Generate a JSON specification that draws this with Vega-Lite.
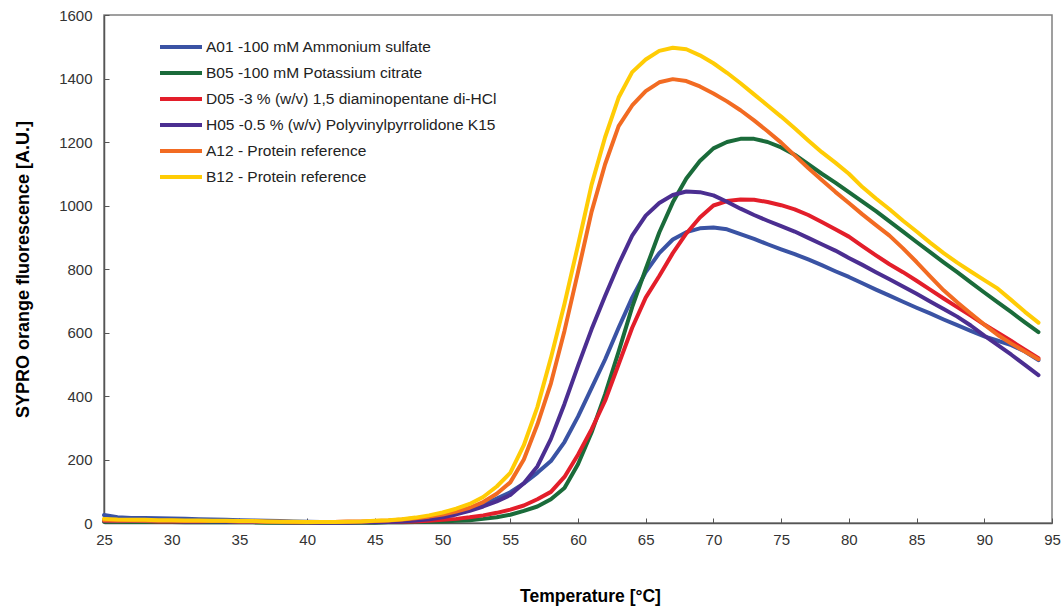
{
  "$schema": "https://vega.github.io/schema/vega-lite/v6.json",
  "width": 948,
  "height": 508,
  "autosize": {"type": "none"},
  "padding": {"left": 104, "top": 15, "right": 12, "bottom": 85},
  "background": "white",
  "config": {
    "font": "Liberation Sans",
    "view": {"stroke": "#808080", "strokeWidth": 1.5},
    "axis": {
      "grid": false,
      "domainColor": "#555555",
      "domainWidth": 1.5,
      "tickColor": "#555555",
      "tickWidth": 1,
      "labelColor": "#333333",
      "labelFontSize": 15,
      "titleFontWeight": "bold",
      "titleColor": "#000000"
    }
  },
  "datasets": {
    "curves": [
      {"s":"A01","t":25,"v":25},{"s":"A01","t":26,"v":18},{"s":"A01","t":27,"v":16},{"s":"A01","t":28,"v":16},{"s":"A01","t":29,"v":15},{"s":"A01","t":30,"v":14},{"s":"A01","t":31,"v":13},{"s":"A01","t":32,"v":12},{"s":"A01","t":33,"v":11},{"s":"A01","t":34,"v":10},{"s":"A01","t":35,"v":9},{"s":"A01","t":36,"v":8},{"s":"A01","t":37,"v":7},{"s":"A01","t":38,"v":6},{"s":"A01","t":39,"v":5},{"s":"A01","t":40,"v":4},{"s":"A01","t":41,"v":3},{"s":"A01","t":42,"v":3},{"s":"A01","t":43,"v":3},{"s":"A01","t":44,"v":3},{"s":"A01","t":45,"v":4},{"s":"A01","t":46,"v":6},{"s":"A01","t":47,"v":9},{"s":"A01","t":48,"v":13},{"s":"A01","t":49,"v":19},{"s":"A01","t":50,"v":26},{"s":"A01","t":51,"v":35},{"s":"A01","t":52,"v":46},{"s":"A01","t":53,"v":60},{"s":"A01","t":54,"v":77},{"s":"A01","t":55,"v":97},{"s":"A01","t":56,"v":125},{"s":"A01","t":57,"v":158},{"s":"A01","t":58,"v":195},{"s":"A01","t":59,"v":255},{"s":"A01","t":60,"v":335},{"s":"A01","t":61,"v":425},{"s":"A01","t":62,"v":515},{"s":"A01","t":63,"v":615},{"s":"A01","t":64,"v":710},{"s":"A01","t":65,"v":790},{"s":"A01","t":66,"v":850},{"s":"A01","t":67,"v":893},{"s":"A01","t":68,"v":916},{"s":"A01","t":69,"v":928},{"s":"A01","t":70,"v":931},{"s":"A01","t":71,"v":925},{"s":"A01","t":72,"v":910},{"s":"A01","t":73,"v":895},{"s":"A01","t":74,"v":878},{"s":"A01","t":75,"v":862},{"s":"A01","t":76,"v":847},{"s":"A01","t":77,"v":830},{"s":"A01","t":78,"v":812},{"s":"A01","t":79,"v":793},{"s":"A01","t":80,"v":775},{"s":"A01","t":81,"v":755},{"s":"A01","t":82,"v":735},{"s":"A01","t":83,"v":716},{"s":"A01","t":84,"v":697},{"s":"A01","t":85,"v":678},{"s":"A01","t":86,"v":660},{"s":"A01","t":87,"v":641},{"s":"A01","t":88,"v":623},{"s":"A01","t":89,"v":605},{"s":"A01","t":90,"v":588},{"s":"A01","t":91,"v":574},{"s":"A01","t":92,"v":560},{"s":"A01","t":93,"v":540},{"s":"A01","t":94,"v":513},

      {"s":"B05","t":25,"v":4},{"s":"B05","t":26,"v":4},{"s":"B05","t":27,"v":3},{"s":"B05","t":28,"v":3},{"s":"B05","t":29,"v":3},{"s":"B05","t":30,"v":3},{"s":"B05","t":31,"v":2},{"s":"B05","t":32,"v":2},{"s":"B05","t":33,"v":2},{"s":"B05","t":34,"v":2},{"s":"B05","t":35,"v":2},{"s":"B05","t":36,"v":2},{"s":"B05","t":37,"v":1},{"s":"B05","t":38,"v":1},{"s":"B05","t":39,"v":1},{"s":"B05","t":40,"v":1},{"s":"B05","t":41,"v":1},{"s":"B05","t":42,"v":1},{"s":"B05","t":43,"v":1},{"s":"B05","t":44,"v":1},{"s":"B05","t":45,"v":1},{"s":"B05","t":46,"v":2},{"s":"B05","t":47,"v":2},{"s":"B05","t":48,"v":3},{"s":"B05","t":49,"v":4},{"s":"B05","t":50,"v":5},{"s":"B05","t":51,"v":7},{"s":"B05","t":52,"v":9},{"s":"B05","t":53,"v":13},{"s":"B05","t":54,"v":18},{"s":"B05","t":55,"v":26},{"s":"B05","t":56,"v":38},{"s":"B05","t":57,"v":52},{"s":"B05","t":58,"v":75},{"s":"B05","t":59,"v":110},{"s":"B05","t":60,"v":185},{"s":"B05","t":61,"v":285},{"s":"B05","t":62,"v":405},{"s":"B05","t":63,"v":540},{"s":"B05","t":64,"v":680},{"s":"B05","t":65,"v":800},{"s":"B05","t":66,"v":915},{"s":"B05","t":67,"v":1010},{"s":"B05","t":68,"v":1085},{"s":"B05","t":69,"v":1140},{"s":"B05","t":70,"v":1180},{"s":"B05","t":71,"v":1200},{"s":"B05","t":72,"v":1210},{"s":"B05","t":73,"v":1210},{"s":"B05","t":74,"v":1200},{"s":"B05","t":75,"v":1183},{"s":"B05","t":76,"v":1160},{"s":"B05","t":77,"v":1130},{"s":"B05","t":78,"v":1100},{"s":"B05","t":79,"v":1072},{"s":"B05","t":80,"v":1042},{"s":"B05","t":81,"v":1012},{"s":"B05","t":82,"v":982},{"s":"B05","t":83,"v":950},{"s":"B05","t":84,"v":918},{"s":"B05","t":85,"v":885},{"s":"B05","t":86,"v":853},{"s":"B05","t":87,"v":821},{"s":"B05","t":88,"v":790},{"s":"B05","t":89,"v":758},{"s":"B05","t":90,"v":726},{"s":"B05","t":91,"v":695},{"s":"B05","t":92,"v":664},{"s":"B05","t":93,"v":632},{"s":"B05","t":94,"v":601},

      {"s":"D05","t":25,"v":7},{"s":"D05","t":26,"v":6},{"s":"D05","t":27,"v":6},{"s":"D05","t":28,"v":6},{"s":"D05","t":29,"v":5},{"s":"D05","t":30,"v":5},{"s":"D05","t":31,"v":5},{"s":"D05","t":32,"v":5},{"s":"D05","t":33,"v":6},{"s":"D05","t":34,"v":6},{"s":"D05","t":35,"v":5},{"s":"D05","t":36,"v":4},{"s":"D05","t":37,"v":3},{"s":"D05","t":38,"v":3},{"s":"D05","t":39,"v":2},{"s":"D05","t":40,"v":2},{"s":"D05","t":41,"v":2},{"s":"D05","t":42,"v":3},{"s":"D05","t":43,"v":4},{"s":"D05","t":44,"v":3},{"s":"D05","t":45,"v":3},{"s":"D05","t":46,"v":3},{"s":"D05","t":47,"v":4},{"s":"D05","t":48,"v":5},{"s":"D05","t":49,"v":7},{"s":"D05","t":50,"v":10},{"s":"D05","t":51,"v":13},{"s":"D05","t":52,"v":18},{"s":"D05","t":53,"v":24},{"s":"D05","t":54,"v":32},{"s":"D05","t":55,"v":42},{"s":"D05","t":56,"v":55},{"s":"D05","t":57,"v":75},{"s":"D05","t":58,"v":98},{"s":"D05","t":59,"v":145},{"s":"D05","t":60,"v":215},{"s":"D05","t":61,"v":295},{"s":"D05","t":62,"v":385},{"s":"D05","t":63,"v":500},{"s":"D05","t":64,"v":615},{"s":"D05","t":65,"v":710},{"s":"D05","t":66,"v":778},{"s":"D05","t":67,"v":850},{"s":"D05","t":68,"v":912},{"s":"D05","t":69,"v":962},{"s":"D05","t":70,"v":1000},{"s":"D05","t":71,"v":1014},{"s":"D05","t":72,"v":1019},{"s":"D05","t":73,"v":1018},{"s":"D05","t":74,"v":1011},{"s":"D05","t":75,"v":1001},{"s":"D05","t":76,"v":988},{"s":"D05","t":77,"v":970},{"s":"D05","t":78,"v":948},{"s":"D05","t":79,"v":925},{"s":"D05","t":80,"v":902},{"s":"D05","t":81,"v":872},{"s":"D05","t":82,"v":843},{"s":"D05","t":83,"v":815},{"s":"D05","t":84,"v":790},{"s":"D05","t":85,"v":763},{"s":"D05","t":86,"v":735},{"s":"D05","t":87,"v":707},{"s":"D05","t":88,"v":680},{"s":"D05","t":89,"v":653},{"s":"D05","t":90,"v":625},{"s":"D05","t":91,"v":599},{"s":"D05","t":92,"v":573},{"s":"D05","t":93,"v":546},{"s":"D05","t":94,"v":519},

      {"s":"H05","t":25,"v":8},{"s":"H05","t":26,"v":7},{"s":"H05","t":27,"v":7},{"s":"H05","t":28,"v":6},{"s":"H05","t":29,"v":6},{"s":"H05","t":30,"v":6},{"s":"H05","t":31,"v":5},{"s":"H05","t":32,"v":5},{"s":"H05","t":33,"v":5},{"s":"H05","t":34,"v":4},{"s":"H05","t":35,"v":4},{"s":"H05","t":36,"v":3},{"s":"H05","t":37,"v":3},{"s":"H05","t":38,"v":2},{"s":"H05","t":39,"v":2},{"s":"H05","t":40,"v":2},{"s":"H05","t":41,"v":1},{"s":"H05","t":42,"v":1},{"s":"H05","t":43,"v":1},{"s":"H05","t":44,"v":2},{"s":"H05","t":45,"v":2},{"s":"H05","t":46,"v":3},{"s":"H05","t":47,"v":5},{"s":"H05","t":48,"v":8},{"s":"H05","t":49,"v":12},{"s":"H05","t":50,"v":18},{"s":"H05","t":51,"v":27},{"s":"H05","t":52,"v":38},{"s":"H05","t":53,"v":52},{"s":"H05","t":54,"v":68},{"s":"H05","t":55,"v":88},{"s":"H05","t":56,"v":125},{"s":"H05","t":57,"v":178},{"s":"H05","t":58,"v":265},{"s":"H05","t":59,"v":375},{"s":"H05","t":60,"v":495},{"s":"H05","t":61,"v":610},{"s":"H05","t":62,"v":715},{"s":"H05","t":63,"v":815},{"s":"H05","t":64,"v":905},{"s":"H05","t":65,"v":968},{"s":"H05","t":66,"v":1008},{"s":"H05","t":67,"v":1033},{"s":"H05","t":68,"v":1044},{"s":"H05","t":69,"v":1042},{"s":"H05","t":70,"v":1032},{"s":"H05","t":71,"v":1012},{"s":"H05","t":72,"v":990},{"s":"H05","t":73,"v":970},{"s":"H05","t":74,"v":952},{"s":"H05","t":75,"v":935},{"s":"H05","t":76,"v":918},{"s":"H05","t":77,"v":898},{"s":"H05","t":78,"v":878},{"s":"H05","t":79,"v":858},{"s":"H05","t":80,"v":835},{"s":"H05","t":81,"v":813},{"s":"H05","t":82,"v":790},{"s":"H05","t":83,"v":768},{"s":"H05","t":84,"v":745},{"s":"H05","t":85,"v":722},{"s":"H05","t":86,"v":698},{"s":"H05","t":87,"v":674},{"s":"H05","t":88,"v":650},{"s":"H05","t":89,"v":622},{"s":"H05","t":90,"v":590},{"s":"H05","t":91,"v":560},{"s":"H05","t":92,"v":530},{"s":"H05","t":93,"v":498},{"s":"H05","t":94,"v":466},

      {"s":"A12","t":25,"v":9},{"s":"A12","t":26,"v":8},{"s":"A12","t":27,"v":8},{"s":"A12","t":28,"v":7},{"s":"A12","t":29,"v":7},{"s":"A12","t":30,"v":7},{"s":"A12","t":31,"v":6},{"s":"A12","t":32,"v":6},{"s":"A12","t":33,"v":6},{"s":"A12","t":34,"v":6},{"s":"A12","t":35,"v":5},{"s":"A12","t":36,"v":5},{"s":"A12","t":37,"v":4},{"s":"A12","t":38,"v":4},{"s":"A12","t":39,"v":3},{"s":"A12","t":40,"v":3},{"s":"A12","t":41,"v":3},{"s":"A12","t":42,"v":3},{"s":"A12","t":43,"v":4},{"s":"A12","t":44,"v":5},{"s":"A12","t":45,"v":6},{"s":"A12","t":46,"v":8},{"s":"A12","t":47,"v":11},{"s":"A12","t":48,"v":15},{"s":"A12","t":49,"v":20},{"s":"A12","t":50,"v":27},{"s":"A12","t":51,"v":36},{"s":"A12","t":52,"v":48},{"s":"A12","t":53,"v":66},{"s":"A12","t":54,"v":92},{"s":"A12","t":55,"v":128},{"s":"A12","t":56,"v":200},{"s":"A12","t":57,"v":310},{"s":"A12","t":58,"v":440},{"s":"A12","t":59,"v":605},{"s":"A12","t":60,"v":790},{"s":"A12","t":61,"v":980},{"s":"A12","t":62,"v":1130},{"s":"A12","t":63,"v":1250},{"s":"A12","t":64,"v":1315},{"s":"A12","t":65,"v":1360},{"s":"A12","t":66,"v":1388},{"s":"A12","t":67,"v":1398},{"s":"A12","t":68,"v":1392},{"s":"A12","t":69,"v":1375},{"s":"A12","t":70,"v":1353},{"s":"A12","t":71,"v":1328},{"s":"A12","t":72,"v":1300},{"s":"A12","t":73,"v":1268},{"s":"A12","t":74,"v":1234},{"s":"A12","t":75,"v":1198},{"s":"A12","t":76,"v":1158},{"s":"A12","t":77,"v":1118},{"s":"A12","t":78,"v":1080},{"s":"A12","t":79,"v":1043},{"s":"A12","t":80,"v":1008},{"s":"A12","t":81,"v":972},{"s":"A12","t":82,"v":938},{"s":"A12","t":83,"v":905},{"s":"A12","t":84,"v":865},{"s":"A12","t":85,"v":822},{"s":"A12","t":86,"v":777},{"s":"A12","t":87,"v":733},{"s":"A12","t":88,"v":695},{"s":"A12","t":89,"v":660},{"s":"A12","t":90,"v":625},{"s":"A12","t":91,"v":592},{"s":"A12","t":92,"v":565},{"s":"A12","t":93,"v":540},{"s":"A12","t":94,"v":516},

      {"s":"B12","t":25,"v":13},{"s":"B12","t":26,"v":11},{"s":"B12","t":27,"v":10},{"s":"B12","t":28,"v":10},{"s":"B12","t":29,"v":9},{"s":"B12","t":30,"v":9},{"s":"B12","t":31,"v":8},{"s":"B12","t":32,"v":8},{"s":"B12","t":33,"v":7},{"s":"B12","t":34,"v":7},{"s":"B12","t":35,"v":6},{"s":"B12","t":36,"v":6},{"s":"B12","t":37,"v":5},{"s":"B12","t":38,"v":4},{"s":"B12","t":39,"v":4},{"s":"B12","t":40,"v":3},{"s":"B12","t":41,"v":3},{"s":"B12","t":42,"v":3},{"s":"B12","t":43,"v":4},{"s":"B12","t":44,"v":5},{"s":"B12","t":45,"v":7},{"s":"B12","t":46,"v":9},{"s":"B12","t":47,"v":12},{"s":"B12","t":48,"v":17},{"s":"B12","t":49,"v":24},{"s":"B12","t":50,"v":33},{"s":"B12","t":51,"v":45},{"s":"B12","t":52,"v":60},{"s":"B12","t":53,"v":82},{"s":"B12","t":54,"v":115},{"s":"B12","t":55,"v":158},{"s":"B12","t":56,"v":245},{"s":"B12","t":57,"v":365},{"s":"B12","t":58,"v":520},{"s":"B12","t":59,"v":690},{"s":"B12","t":60,"v":875},{"s":"B12","t":61,"v":1065},{"s":"B12","t":62,"v":1215},{"s":"B12","t":63,"v":1340},{"s":"B12","t":64,"v":1420},{"s":"B12","t":65,"v":1460},{"s":"B12","t":66,"v":1487},{"s":"B12","t":67,"v":1497},{"s":"B12","t":68,"v":1492},{"s":"B12","t":69,"v":1473},{"s":"B12","t":70,"v":1448},{"s":"B12","t":71,"v":1418},{"s":"B12","t":72,"v":1385},{"s":"B12","t":73,"v":1350},{"s":"B12","t":74,"v":1315},{"s":"B12","t":75,"v":1280},{"s":"B12","t":76,"v":1243},{"s":"B12","t":77,"v":1205},{"s":"B12","t":78,"v":1168},{"s":"B12","t":79,"v":1135},{"s":"B12","t":80,"v":1100},{"s":"B12","t":81,"v":1058},{"s":"B12","t":82,"v":1022},{"s":"B12","t":83,"v":988},{"s":"B12","t":84,"v":952},{"s":"B12","t":85,"v":918},{"s":"B12","t":86,"v":883},{"s":"B12","t":87,"v":850},{"s":"B12","t":88,"v":820},{"s":"B12","t":89,"v":792},{"s":"B12","t":90,"v":765},{"s":"B12","t":91,"v":738},{"s":"B12","t":92,"v":702},{"s":"B12","t":93,"v":665},{"s":"B12","t":94,"v":631}
    ]
  },
  "data": {"name": "curves"},
  "mark": {"type": "line", "strokeWidth": 4, "strokeJoin": "round", "strokeCap": "round"},
  "encoding": {
    "x": {
      "field": "t",
      "type": "quantitative",
      "scale": {"domain": [25, 95], "nice": false, "zero": false},
      "axis": {
        "title": "Temperature [°C]",
        "titleFontSize": 17.5,
        "titleX": 486,
        "values": [25, 30, 35, 40, 45, 50, 55, 60, 65, 70, 75, 80, 85, 90, 95],
        "tickSize": -5,
        "labelPadding": 14,
        "titlePadding": 40,
        "labelFlush": false
      }
    },
    "y": {
      "field": "v",
      "type": "quantitative",
      "scale": {"domain": [0, 1600], "nice": false},
      "axis": {
        "title": "SYPRO orange fluorescence [A.U.]",
        "titleFontSize": 18,
        "format": "d",
        "values": [0, 200, 400, 600, 800, 1000, 1200, 1400, 1600],
        "tickSize": -5,
        "labelPadding": 17,
        "titlePadding": 26,
        "labelFlush": false
      }
    },
    "color": {
      "field": "s",
      "type": "nominal",
      "scale": {
        "domain": ["A01", "B05", "D05", "H05", "A12", "B12"],
        "range": ["#3A53A4", "#1A6B3A", "#E31E2A", "#4B2E91", "#F26B22", "#FFCC05"]
      },
      "legend": {
        "title": null,
        "orient": "none",
        "legendX": 68,
        "legendY": 23,
        "symbolType": "M-3,0H3",
        "symbolSize": 196,
        "symbolStrokeWidth": 4,
        "symbolFillColor": "transparent",
        "labelFontSize": 15.5,
        "labelColor": "#222222",
        "labelOffset": 16,
        "rowPadding": 8,
        "labelLimit": 400,
        "labelExpr": "{'A01':'A01 -100 mM Ammonium sulfate','B05':'B05 -100 mM Potassium citrate','D05':'D05 -3 % (w/v) 1,5 diaminopentane di-HCl','H05':'H05 -0.5 % (w/v) Polyvinylpyrrolidone K15','A12':'A12 - Protein reference','B12':'B12 - Protein reference'}[datum.label]"
      }
    }
  }
}
